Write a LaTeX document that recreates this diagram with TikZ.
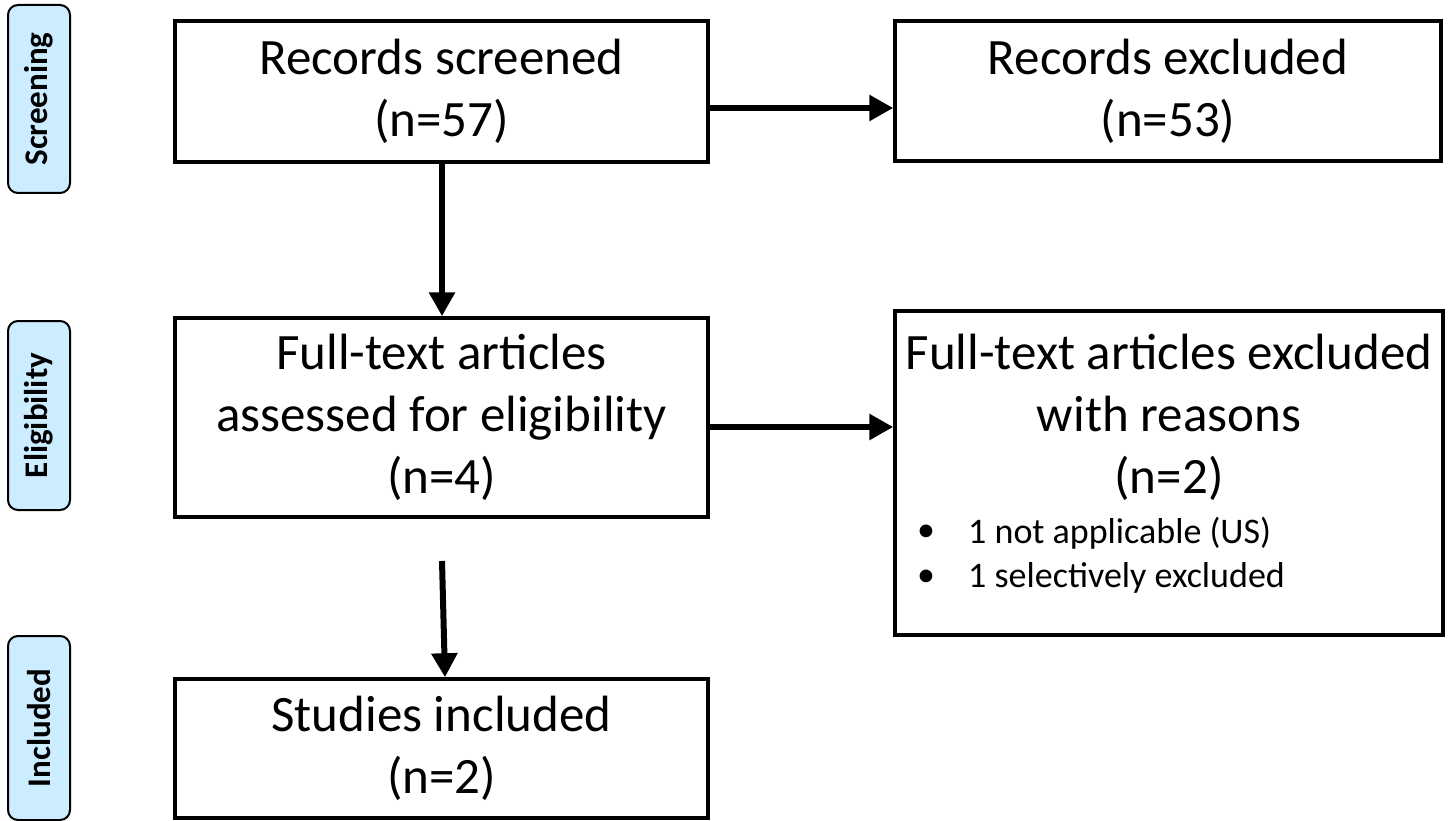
\documentclass[tikz,border=0pt]{standalone}
\usepackage{fontspec}
\setmainfont{Carlito}
\usetikzlibrary{arrows.meta}
\definecolor{sidefill}{RGB}{204,236,255}
\tikzset{
  mainbox/.style={draw=black, line width=3.5pt, fill=white, inner sep=0pt, align=center,
    font=\fontsize{51}{62}\selectfont},
  sidebox/.style={draw=black, line width=2pt, fill=sidefill, rounded corners=10pt, inner sep=0pt,
    minimum width=62pt},
  sidelabel/.style={rotate=90, font=\fontsize{33}{38}\selectfont\bfseries},
  flow/.style={line width=6pt, -{Triangle[length=24pt,width=25pt]}},
  bodytext/.style={font=\fontsize{51}{62}\selectfont, align=center, inner sep=0pt},
  smalltext/.style={font=\fontsize{36}{42}\selectfont, inner sep=0pt}
}
\begin{document}
\begin{tikzpicture}[x=1pt,y=-1pt]
\path[use as bounding box, fill=white] (0,0) rectangle (1450,821);

% side phase boxes
\node[sidebox, minimum height=188pt] (sscr) at (39,99) {};
\node[sidelabel] (lscr) at (sscr.center) {Screening};
\node[sidebox, minimum height=189pt] (selg) at (39,415.5) {};
\node[sidelabel] (lelg) at (selg.center) {Eligibility};
\node[sidebox, minimum height=184pt] (sinc) at (39,728) {};
\node[sidelabel] (linc) at (sinc.center) {Included};

% main boxes
\node[mainbox, minimum width=533pt, minimum height=141pt] (scr) at (441.5,91.5) {Records screened\\(n=57)};
\node[mainbox, minimum width=546pt, minimum height=140pt] (exc1) at (1168,91) {Records excluded\\(n=53)};
\node[mainbox, minimum width=533pt, minimum height=199pt] (ft) at (441.5,417.5) {Full-text articles\\assessed for eligibility\\(n=4)};
\node[mainbox, minimum width=548pt, minimum height=324pt] (exc2) at (1169,473) {};
\node[mainbox, minimum width=533pt, minimum height=139pt] (inc) at (441.5,748.5) {Studies included\\(n=2)};

% text of the right-hand exclusion box
\node[bodytext] (exc2t) at (1169,417) {Full-text articles excluded\\with reasons\\(n=2)};
\node[smalltext] (b1) at (926,533) {•};
\node[smalltext, anchor=west] (t1) at (968,533) {1 not applicable (US)};
\node[smalltext] (b2) at (926,578) {•};
\node[smalltext, anchor=west] (t2) at (968,578) {1 selectively excluded};

% connectors
\draw[flow] (scr.south -| 442,0) -- (ft.north -| 442,0);
\draw[flow] (scr.east |- 0,108) -- (exc1.west |- 0,108);
\draw[flow] (ft.east |- 0,427) -- (exc2.west |- 0,427);
\coordinate (gapstart) at (442,561);
\draw[flow] (gapstart) -- (inc.north -| 445,0);
\end{tikzpicture}
\end{document}
